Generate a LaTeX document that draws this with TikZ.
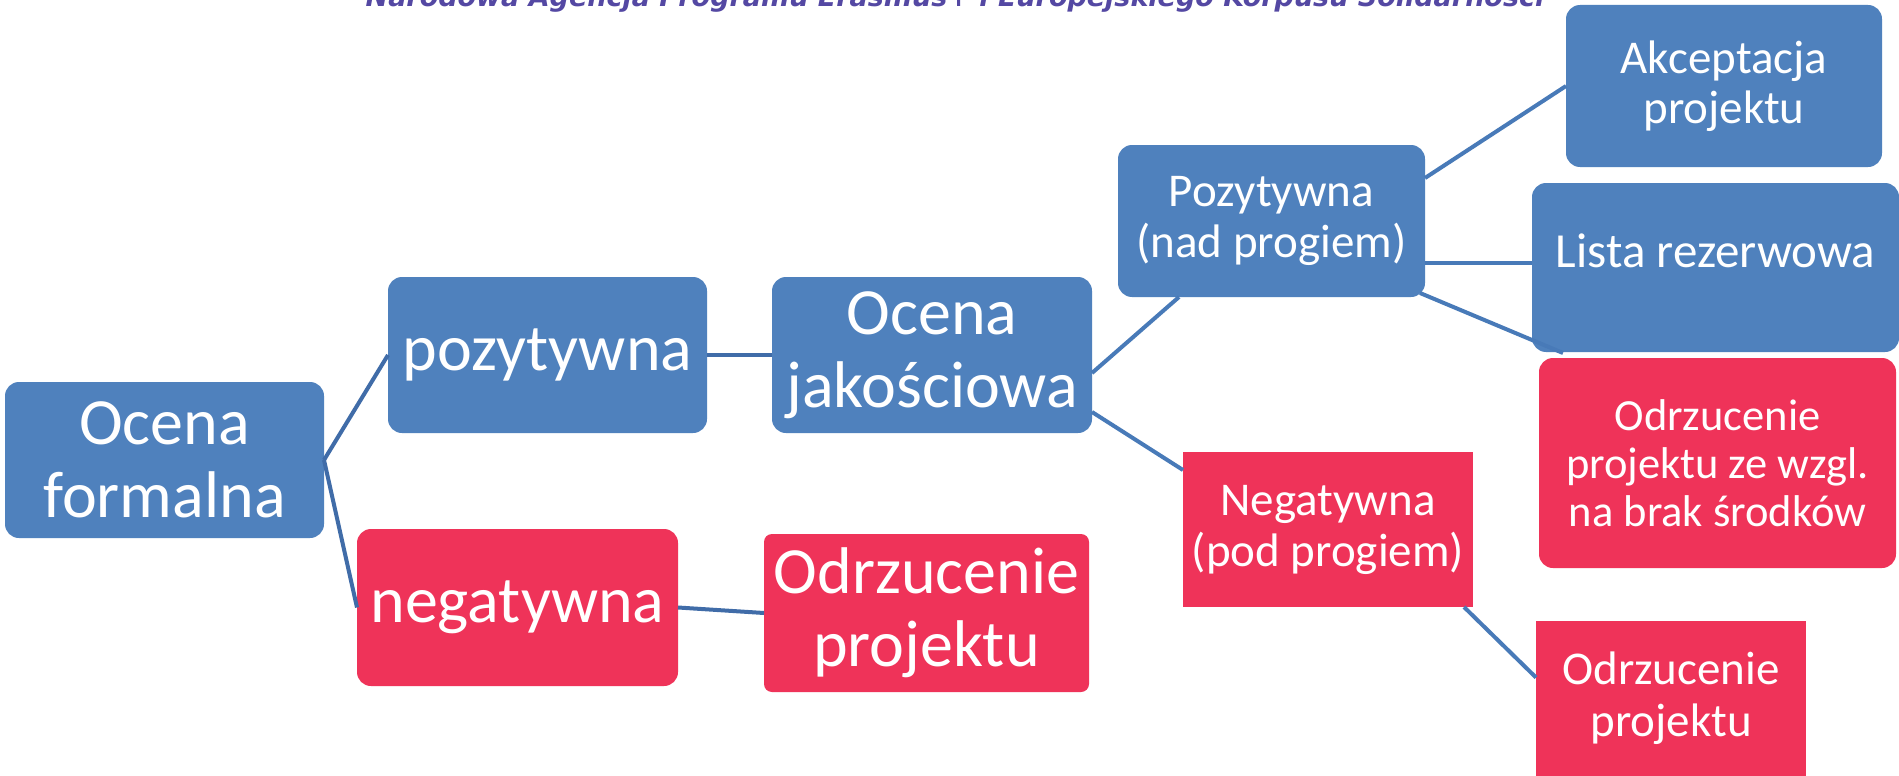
\documentclass[tikz,border=0pt]{standalone}
\usepackage{fontspec}
\setmainfont{Carlito}
\newfontfamily\hdrfont{DejaVu Sans}[ItalicFont={DejaVu Sans Oblique},BoldFont={DejaVu Sans Bold},BoldItalicFont={DejaVu Sans Bold Oblique}]
\usetikzlibrary{calc}
\definecolor{boxblue}{RGB}{79,129,189}
\definecolor{boxred}{RGB}{239,51,89}
\definecolor{linkblue}{RGB}{72,122,184}
\definecolor{linkdark}{RGB}{64,108,168}
\definecolor{hdrpurple}{RGB}{84,72,163}
\tikzset{
  blk/.style={draw=none, inner sep=0pt, outer sep=0pt, align=center, text=white},
  bluebox/.style={blk, fill=boxblue, rounded corners=14pt},
  redbox/.style={blk, fill=boxred, rounded corners=14pt},
  redsq/.style={blk, fill=boxred},
  bigtxt/.style={font=\fontsize{66}{73}\selectfont},
  midtxt/.style={font=\fontsize{47}{51}\selectfont},
  link/.style={draw=linkblue, line width=4pt},
  linkl/.style={draw=linkdark, line width=4pt},
}
\begin{document}
\begin{tikzpicture}[x=1pt,y=-1pt]
\useasboundingbox (0,0) rectangle (1899,776);
\fill[white] (0,0) rectangle (1899,776);

% header (cut by the top edge, as in the reference)
\node[anchor=base, inner sep=0pt, text=hdrpurple, font=\hdrfont\bfseries\itshape\fontsize{27}{31}\selectfont] (hdr) at (955,7) {Narodowa Agencja Programu Erasmus+ i Europejskiego Korpusu Solidarności};

% boxes
\node[bluebox, bigtxt, minimum width=319pt, minimum height=156pt] (of) at (164.5,460) {Ocena\\formalna};
\node[bluebox, bigtxt, minimum width=319pt, minimum height=156pt] (poz) at (547.5,355) {pozytywna};
\node[redbox, bigtxt, minimum width=321pt, minimum height=157pt] (neg) at (517.5,607.5) {negatywna};
\node[bluebox, bigtxt, minimum width=320pt, minimum height=156pt] (oj) at (932,355) {Ocena\\jakościowa};
\node[redbox, bigtxt, minimum width=325pt, minimum height=158pt, rounded corners=8pt] (odl) at (926.5,613) {Odrzucenie\\projektu};
\node[bluebox, midtxt, minimum width=307pt, minimum height=152pt] (pn) at (1271.5,221) {Pozytywna\\(nad progiem)};
\node[redsq, midtxt, minimum width=290pt, minimum height=155pt] (nn) at (1328,529.5) {Negatywna\\(pod progiem)};
\node[bluebox, font=\fontsize{47}{50}\selectfont, minimum width=316pt, minimum height=162pt] (akc) at (1724,86) {Akceptacja\\projektu};
\node[bluebox, font=\fontsize{49}{53}\selectfont, minimum width=367pt, minimum height=169pt, text height=30pt, text depth=30pt] (lista) at (1715.5,267.5) {Lista rezerwowa};
\node[redbox, font=\fontsize{44.5}{48}\selectfont, minimum width=357pt, minimum height=210pt] (odw) at (1717.5,463) {Odrzucenie\\projektu ze wzgl.\\na brak środków};
\node[redsq, font=\fontsize{47}{52}\selectfont, minimum width=270pt, minimum height=155pt] (odr) at (1671,698.5) {Odrzucenie\\projektu};

% connectors
\draw[linkl] (of.east) -- (poz.west);
\draw[linkl] (of.east) -- (neg.west);
\draw[linkl] (poz.east) -- (oj.west);
\draw[linkl] (neg.east) -- (odl.west);
\draw[link] ([yshift=-18pt]oj.east) -- ([xshift=61pt]pn.south west);
\draw[link] ([yshift=-57pt]oj.east) -- ([yshift=-18pt]nn.north west);
\draw[link] ([yshift=43pt]pn.east) -- (akc.west);
\draw[link] ([yshift=-42pt]pn.east) coordinate (h1) -- (h1 -| lista.west);
\draw[link] ([xshift=-5pt,yshift=4pt]pn.south east) -- ([xshift=24pt,yshift=5pt]odw.north west);
\draw[link] ([xshift=-9pt]nn.south east) -- ([yshift=21pt]odr.west);
\end{tikzpicture}
\end{document}
